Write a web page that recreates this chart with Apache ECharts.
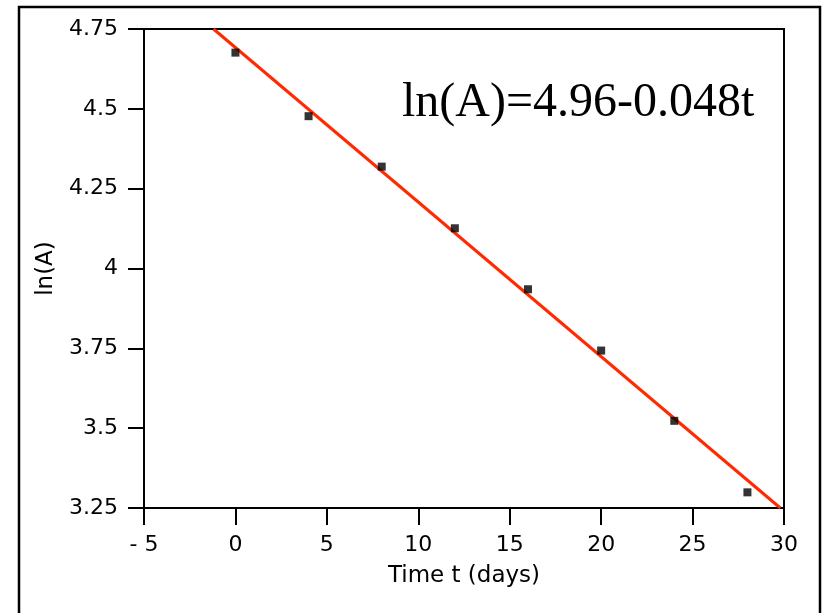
<!DOCTYPE html>
<html>
<head>
<meta charset="utf-8">
<script src="https://cdn.jsdelivr.net/npm/echarts@6/dist/echarts.min.js"></script>
<style>
html,body{margin:0;padding:0;background:#fff;}
#c{width:823px;height:613px;}
</style>
</head>
<body>
<div id="c"></div>
<script>
// Data
const timeDays = [0, 4, 8, 12, 16, 20, 24, 28];
const lnA = [4.676, 4.477, 4.319, 4.126, 3.935, 3.743, 3.523, 3.299];
// Fitted line endpoints as drawn (clipped at plot edges)
const fitT = [-1.2, 29.8];
const fitY = [4.75, 3.25];
const xTickLabels = ['- 5', '0', '5', '10', '15', '20', '25', '30'];
const yTickLabels = ['3.25', '3.5', '3.75', '4', '4.25', '4.5', '4.75'];
const equationText = 'ln(A)=4.96-0.048t';
const xName = 'Time t (days)';
const yName = 'ln(A)';

const xMin = -5, xMax = 30, xStep = 5;
const yMin = 3.25, yMax = 4.75, yStep = 0.25;

const chart = echarts.init(document.getElementById('c'), null, {renderer: 'canvas'});
const labelFont = {fontFamily: 'DejaVu Sans', fontSize: 22, color: '#000'};
const nameFont = {fontFamily: 'DejaVu Sans', fontSize: 23, color: '#000'};

chart.setOption({
  backgroundColor: '#fff',
  animation: false,
  grid: {left: 144, top: 29, right: 39, bottom: 105, show: true, borderColor: '#000', borderWidth: 2, backgroundColor: 'transparent'},
  xAxis: {
    type: 'value', min: xMin, max: xMax, interval: xStep,
    name: xName, nameLocation: 'middle', nameGap: 57,
    nameTextStyle: nameFont,
    axisLine: {show: true, onZero: false, lineStyle: {color: '#000', width: 2}},
    axisTick: {show: true, length: 17, lineStyle: {color: '#000', width: 2}},
    axisLabel: Object.assign({margin: 26, formatter: v => xTickLabels[Math.round((v - xMin) / xStep)]}, labelFont),
    splitLine: {show: false}
  },
  yAxis: {
    type: 'value', min: yMin, max: yMax, interval: yStep,
    name: yName, nameLocation: 'middle', nameGap: 86,
    nameTextStyle: nameFont,
    axisLine: {show: true, onZero: false, lineStyle: {color: '#000', width: 2}},
    axisTick: {show: true, length: 16, lineStyle: {color: '#000', width: 2}},
    axisLabel: Object.assign({margin: 26, formatter: v => yTickLabels[Math.round((v - yMin) / yStep)]}, labelFont),
    splitLine: {show: false}
  },
  series: [
    {
      type: 'line',
      data: fitT.map((t, i) => [t, fitY[i]]),
      showSymbol: false,
      lineStyle: {color: '#ff2a00', width: 3},
      z: 2,
      silent: true
    },
    {
      type: 'scatter',
      data: timeDays.map((t, i) => [t, lnA[i]]),
      symbol: 'rect',
      symbolSize: 8,
      itemStyle: {color: '#000'},
      z: 3
    }
  ],
  graphic: [
    {type: 'rect', shape: {x: 19, y: 7, width: 801, height: 640}, style: {fill: 'none', stroke: '#000', lineWidth: 2.5}, z: 0},
    {type: 'text', x: 402, y: 103, style: {text: equationText, fontFamily: 'Liberation Serif', fontSize: 48, fill: '#000', textVerticalAlign: 'middle', textAlign: 'left'}, z: 10}
  ]
});
</script>
</body>
</html>
